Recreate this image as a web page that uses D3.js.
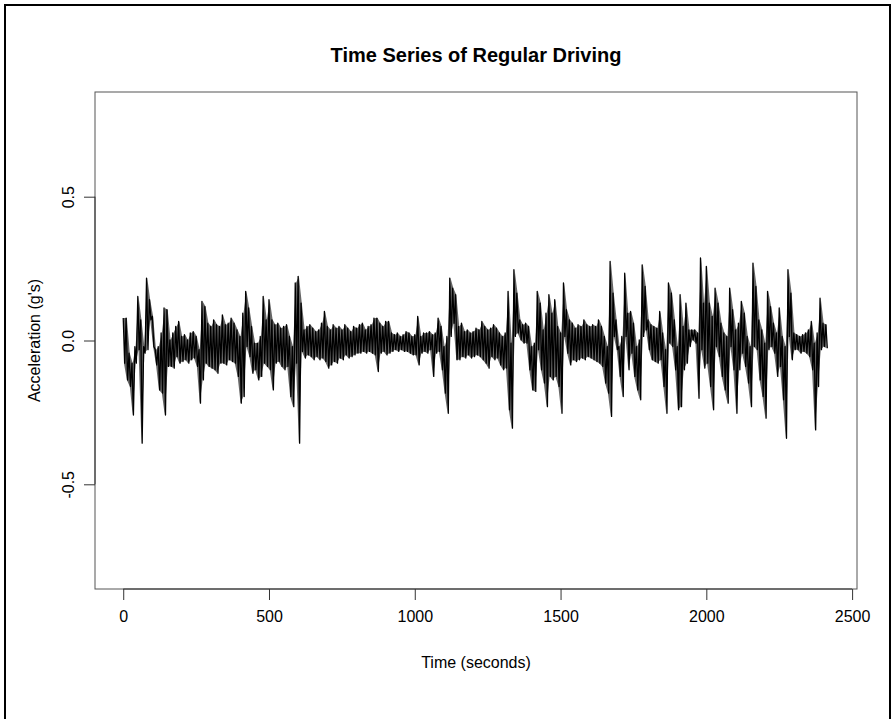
<!DOCTYPE html>
<html><head><meta charset="utf-8">
<script src="https://cdn.jsdelivr.net/npm/d3@7"></script>
<style>body{margin:0;background:#fff}svg{display:block}</style>
</head><body><svg id="c" width="896" height="719"></svg>
<script>
const chartTitle = "Time Series of Regular Driving";
const xLabel = "Time (seconds)";
const yLabel = "Acceleration (g's)";
const xTicks = [0, 500, 1000, 1500, 2000, 2500];
const yTicks = [-0.5, 0, 0.5];
const yTickLabels = ["-0.5", "0.0", "0.5"];
const xDataRange = [0, 2420];
const yLimits = [-0.8, 0.8];
const sampleStep = 10; // seconds between successive envelope samples

// upper / lower envelope of acceleration (g's), one pair per 10 s window
const upper = [0.078,0.078,-0.044,-0.079,-0.021,0.153,0.072,-0.021,0.217,0.142,
0.084,-0.032,-0.021,0.026,0.113,0.107,0.002,0.026,0.049,0.066,
0.014,0.020,0.002,0.026,0.031,0.014,-0.032,0.136,0.118,0.060,
0.049,0.072,0.055,0.049,0.089,0.055,0.060,0.078,0.060,0.037,
0.014,0.095,0.171,0.113,0.049,-0.009,-0.009,0.014,0.153,0.072,
0.142,0.072,0.055,0.060,0.043,0.049,0.055,0.014,-0.021,0.200,
0.223,0.130,0.037,0.049,0.055,0.043,0.031,0.037,0.060,0.101,
0.049,0.037,0.055,0.043,0.049,0.037,0.055,0.043,0.031,0.049,
0.043,0.055,0.060,0.037,0.049,0.055,0.078,0.078,0.060,0.049,
0.066,0.066,0.026,0.020,0.026,0.014,0.020,0.031,0.026,0.014,
0.020,0.084,0.014,0.026,0.026,0.031,0.020,0.026,0.078,0.049,
-0.021,0.014,0.217,0.182,0.159,0.049,0.060,0.031,0.037,0.026,
0.031,0.043,0.037,0.066,0.049,0.037,0.043,0.055,0.043,0.026,
0.014,0.026,0.171,-0.009,0.246,0.165,0.072,0.055,0.060,0.049,
-0.021,-0.009,0.171,0.130,0.037,0.095,0.159,0.095,0.142,0.049,
0.026,0.200,0.107,0.072,0.060,0.043,0.055,0.049,0.072,0.055,
0.049,0.055,0.049,0.072,0.049,0.014,-0.021,0.275,0.165,0.072,
-0.021,0.014,0.234,0.095,0.101,0.060,-0.021,0.002,0.263,0.188,
0.072,0.055,0.049,0.043,0.101,0.026,-0.032,0.200,0.165,0.072,
-0.021,0.159,0.049,0.130,0.037,0.037,0.037,0.026,0.287,0.130,
0.258,0.130,0.084,0.182,0.130,0.060,0.026,0.014,0.182,0.107,
0.037,0.060,0.136,0.095,0.014,-0.021,0.269,0.188,0.072,0.037,
-0.009,0.171,0.118,0.060,0.026,0.113,0.014,-0.021,0.246,0.165,
0.026,0.020,0.014,0.020,0.026,0.037,0.066,-0.009,0.026,0.147,
0.060,0.055];
const lower = [-0.079,-0.137,-0.160,-0.259,-0.079,-0.032,-0.357,-0.044,-0.032,0.072,
-0.021,-0.085,-0.172,-0.183,-0.259,-0.090,-0.090,-0.096,-0.056,-0.079,
-0.073,-0.067,-0.079,-0.067,-0.061,-0.090,-0.218,-0.137,-0.079,-0.090,
-0.096,-0.102,-0.114,-0.079,-0.079,-0.085,-0.067,-0.073,-0.079,-0.125,
-0.218,-0.195,-0.021,-0.056,-0.114,-0.102,-0.137,-0.125,-0.079,-0.090,
-0.102,-0.172,-0.079,-0.073,-0.090,-0.102,-0.090,-0.195,-0.230,-0.079,
-0.357,-0.038,-0.061,-0.050,-0.056,-0.067,-0.056,-0.067,-0.061,-0.073,
-0.096,-0.085,-0.073,-0.079,-0.061,-0.067,-0.050,-0.061,-0.056,-0.050,
-0.044,-0.044,-0.038,-0.044,-0.038,-0.044,-0.050,-0.108,-0.044,-0.038,
-0.050,-0.044,-0.038,-0.032,-0.038,-0.032,-0.038,-0.038,-0.044,-0.050,
-0.050,-0.085,-0.044,-0.038,-0.044,-0.032,-0.125,-0.044,-0.038,-0.102,
-0.183,-0.253,0.014,0.060,-0.067,-0.067,-0.056,-0.061,-0.050,-0.061,
-0.056,-0.050,-0.056,-0.067,-0.079,-0.096,-0.056,-0.067,-0.061,-0.085,
-0.102,-0.096,-0.241,-0.305,0.014,0.026,0.002,-0.009,-0.009,-0.102,
-0.172,-0.177,-0.032,-0.102,-0.148,-0.230,-0.125,-0.137,-0.125,-0.160,
-0.253,0.014,-0.044,-0.085,-0.067,-0.073,-0.067,-0.061,-0.067,-0.056,
-0.061,-0.067,-0.073,-0.079,-0.090,-0.148,-0.183,-0.264,0.014,-0.032,
-0.125,-0.195,0.014,-0.102,-0.044,-0.125,-0.172,-0.206,0.014,0.037,
-0.032,-0.067,-0.073,-0.079,-0.067,-0.160,-0.253,-0.009,-0.021,-0.102,
-0.241,-0.230,-0.102,-0.079,-0.021,0.002,-0.009,-0.201,-0.032,-0.096,
-0.079,-0.160,-0.241,-0.021,-0.056,-0.125,-0.172,-0.218,-0.021,-0.102,
-0.253,-0.102,-0.044,-0.090,-0.148,-0.230,-0.021,-0.032,-0.137,-0.195,
-0.270,-0.032,-0.021,-0.044,-0.125,-0.090,-0.206,-0.340,0.014,-0.067,
-0.032,-0.032,-0.044,-0.038,-0.044,-0.056,-0.102,-0.311,-0.160,-0.032,
-0.021,-0.027];

const plot = {left: 95, right: 857, top: 92, bottom: 589};
const font = "'Liberation Sans', Arial, Helvetica, sans-serif";
const svg = d3.select("#c");

// outer frame
svg.append("rect").attr("x", 5).attr("y", 5).attr("width", 885).attr("height", 740)
  .attr("fill", "none").attr("stroke", "#000").attr("stroke-width", 2);

const xr = xDataRange[1] - xDataRange[0];
const yr = yLimits[1] - yLimits[0];
const x = d3.scaleLinear().domain([xDataRange[0] - 0.04 * xr, xDataRange[1] + 0.04 * xr]).range([plot.left, plot.right]);
const y = d3.scaleLinear().domain([yLimits[0] - 0.04 * yr, yLimits[1] + 0.04 * yr]).range([plot.bottom, plot.top]);

// envelope windows
const windows = upper.map((u, i) => ({t: i * sampleStep, hi: u, lo: lower[i]}));

// dense core of the trace: shaded band between the window extremes
svg.append("path").datum(windows)
  .attr("d", d3.area().x(d => x(d.t + sampleStep / 4)).y0(d => y(d.lo)).y1(d => y(d.hi)))
  .attr("fill", "#000").attr("fill-opacity", 0.6);

// trace itself, alternating between upper and lower extreme of each window
const pts = [];
windows.forEach(w => {
  pts.push({t: w.t, v: w.hi});
  pts.push({t: w.t + sampleStep / 2, v: w.lo});
});
svg.append("path").datum(pts)
  .attr("d", d3.line().x(d => x(d.t)).y(d => y(d.v)))
  .attr("fill", "none").attr("stroke", "#000").attr("stroke-width", 1.3)
  .attr("stroke-linejoin", "round");

// box
svg.append("rect").attr("x", plot.left).attr("y", plot.top)
  .attr("width", plot.right - plot.left).attr("height", plot.bottom - plot.top)
  .attr("fill", "none").attr("stroke", "#555").attr("stroke-width", 1);

// x axis
const xAxis = d3.axisBottom(x).tickValues(xTicks).tickSize(11).tickPadding(11).tickFormat(d3.format("d"));
const gx = svg.append("g").attr("transform", `translate(0,${plot.bottom})`).call(xAxis);
gx.select(".domain").attr("d", `M${x(xTicks[0])},0H${x(xTicks[xTicks.length-1])}`).attr("stroke", "#333");
gx.selectAll(".tick line").attr("stroke", "#333");
gx.selectAll("text").attr("font-family", font).attr("font-size", 16).attr("fill", "#000");

// y axis
const yAxis = d3.axisLeft(y).tickValues(yTicks).tickSize(11).tickFormat(d => yTickLabels[yTicks.indexOf(d)]);
const gy = svg.append("g").attr("transform", `translate(${plot.left},0)`).call(yAxis);
gy.select(".domain").attr("d", `M0,${y(yTicks[0])}V${y(yTicks[yTicks.length-1])}`).attr("stroke", "#333");
gy.selectAll(".tick line").attr("stroke", "#333");
gy.selectAll(".tick text").attr("font-family", font).attr("font-size", 16).attr("fill", "#000")
  .attr("x", null).attr("dy", null).attr("y", 0)
  .attr("text-anchor", "middle")
  .attr("transform", "translate(-21,0) rotate(-90)");

// titles
svg.append("text").attr("x", (plot.left + plot.right) / 2).attr("y", 62)
  .attr("text-anchor", "middle").attr("font-family", font).attr("font-weight", "bold")
  .attr("font-size", 20).text(chartTitle);
svg.append("text").attr("x", (plot.left + plot.right) / 2).attr("y", plot.bottom + 79)
  .attr("text-anchor", "middle").attr("font-family", font).attr("font-size", 16).text(xLabel);
svg.append("text").attr("transform", `translate(${plot.left - 55},${(plot.top + plot.bottom) / 2}) rotate(-90)`)
  .attr("text-anchor", "middle").attr("font-family", font).attr("font-size", 16).text(yLabel);
</script></body></html>
